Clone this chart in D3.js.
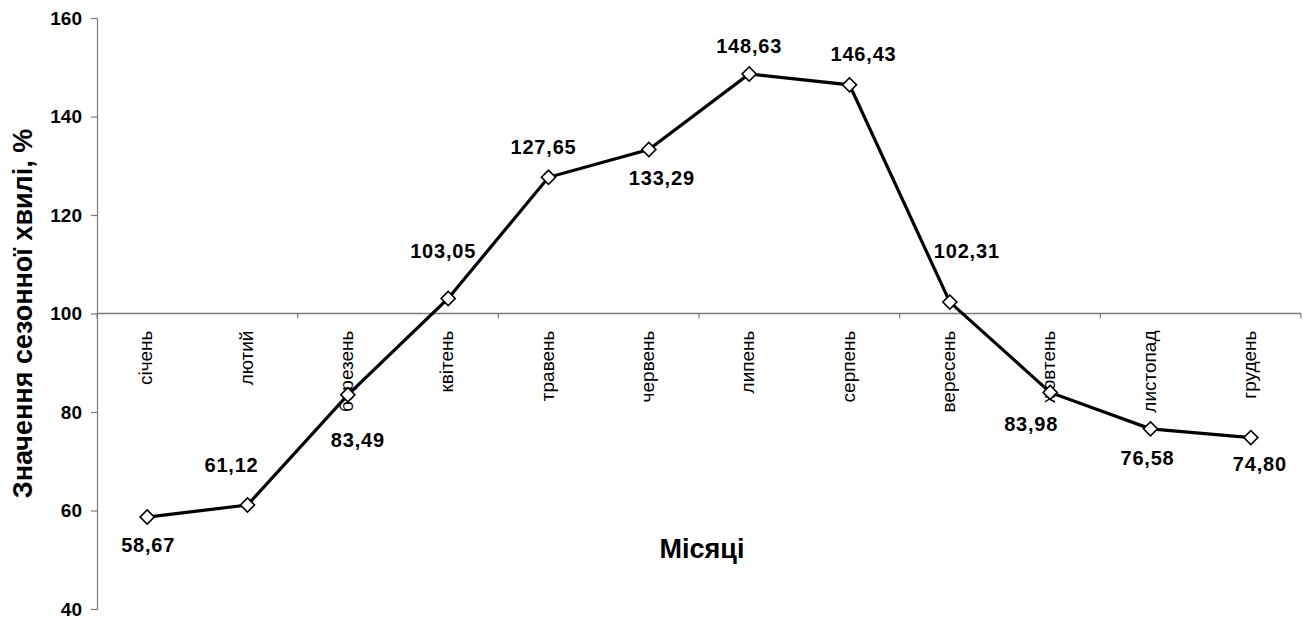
<!DOCTYPE html>
<html>
<head>
<meta charset="utf-8">
<script src="https://cdn.jsdelivr.net/npm/d3@7"></script>
<style>
  html, body { margin: 0; padding: 0; background: #fff; }
  svg { display: block; font-family: Arial, "Liberation Sans", sans-serif; }
  .ytick text { font-size: 19px !important; font-weight: bold; font-family: Arial, "Liberation Sans", sans-serif; fill: #000; }
</style>
</head>
<body>
<svg id="chart" width="1306" height="619"></svg>
<script>
const months = ["січень","лютий","березень","квітень","травень","червень","липень","серпень","вересень","жовтень","листопад","грудень"];
const values = [58.67, 61.12, 83.49, 103.05, 127.65, 133.29, 148.63, 146.43, 102.31, 83.98, 76.58, 74.80];
const yTicks = [40, 60, 80, 100, 120, 140, 160];
const labelTexts = ["58,67","61,12","83,49","103,05","127,65","133,29","148,63","146,43","102,31","83,98","76,58","74,80"];
const xTitle = "Місяці";
const yTitle = "Значення сезонної хвилі, %";

// label placement offsets (layout only)
const labelOffsets = [[1,35],[-16,-33],[10,52],[-5,-40],[-5,-23],[13,35],[0,-21],[14,-24],[17,-44],[-19,39],[-3,36],[9,33]];

(function () {
const svg = d3.select("#chart");
const mLeft = 97, mRight = 1301, mTop = 18, mBottom = 609;

const x = d3.scaleBand().domain(months).range([mLeft, mRight]).padding(0);
const y = d3.scaleLinear().domain([40, 160]).range([mBottom, mTop]);
const cx = d => x(d) + x.bandwidth() / 2;

const axisColor = "#7a7a7a";

// Y axis
const yAxis = svg.append("g").attr("class", "ytick").attr("transform", `translate(${mLeft},0)`)
  .call(d3.axisLeft(y).tickValues(yTicks).tickSize(6).tickPadding(9).tickFormat(d3.format("d")));
yAxis.attr("font-size", null).attr("font-family", null);
yAxis.select(".domain").attr("stroke", axisColor).attr("stroke-width", 1.2);
yAxis.selectAll(".tick line").attr("stroke", axisColor).attr("stroke-width", 1.2);
yAxis.selectAll(".tick text").style("font-size", "19px").style("font-weight", "bold").attr("fill", "#000");

// X axis crossing at 100
const y100 = y(100);
svg.append("line").attr("x1", mLeft).attr("x2", mRight).attr("y1", y100).attr("y2", y100)
  .attr("stroke", axisColor).attr("stroke-width", 1.5);
const bounds = d3.range(0, months.length + 1, 2).map(i => mLeft + i * x.bandwidth());
svg.append("g").selectAll("line").data(bounds).join("line")
  .attr("x1", d => d).attr("x2", d => d).attr("y1", y100).attr("y2", y100 + 5)
  .attr("stroke", axisColor).attr("stroke-width", 1.2);

// category labels
svg.append("g").selectAll("text").data(months).join("text")
  .attr("transform", d => `translate(${cx(d) + 5},${y100 + 17}) rotate(-90)`)
  .attr("text-anchor", "end")
  .style("font-size", "19px")
  .attr("fill", "#000")
  .text(d => d);

// line
const line = d3.line().x((d, i) => cx(months[i])).y(d => y(d));
svg.append("path").datum(values).attr("d", line)
  .attr("fill", "none").attr("stroke", "#000").attr("stroke-width", 3.2).attr("stroke-linejoin", "miter");

// markers
const sym = d3.symbol().type(d3.symbolSquare).size(100);
svg.append("g").selectAll("path").data(values).join("path")
  .attr("d", sym)
  .attr("transform", (d, i) => `translate(${cx(months[i])},${y(d)}) rotate(45)`)
  .attr("fill", "#fff").attr("stroke", "#000").attr("stroke-width", 1.6);

// data labels
svg.append("g").selectAll("text").data(values).join("text")
  .attr("x", (d, i) => cx(months[i]) + labelOffsets[i][0])
  .attr("y", (d, i) => y(d) + labelOffsets[i][1])
  .attr("text-anchor", "middle")
  .style("font-size", "20px").style("font-weight", "bold").attr("letter-spacing", "0.8px")
  .attr("fill", "#000")
  .text((d, i) => labelTexts[i]);

// axis titles
svg.append("text").attr("x", (mLeft + mRight) / 2 + 3).attr("y", 558)
  .attr("text-anchor", "middle").style("font-size", "27px").style("font-weight", "bold").text(xTitle);
svg.append("text").attr("transform", `translate(32,${y100}) rotate(-90)`)
  .attr("text-anchor", "middle").style("font-size", "27px").style("font-weight", "bold").text(yTitle);
})();
</script>
</body>
</html>
